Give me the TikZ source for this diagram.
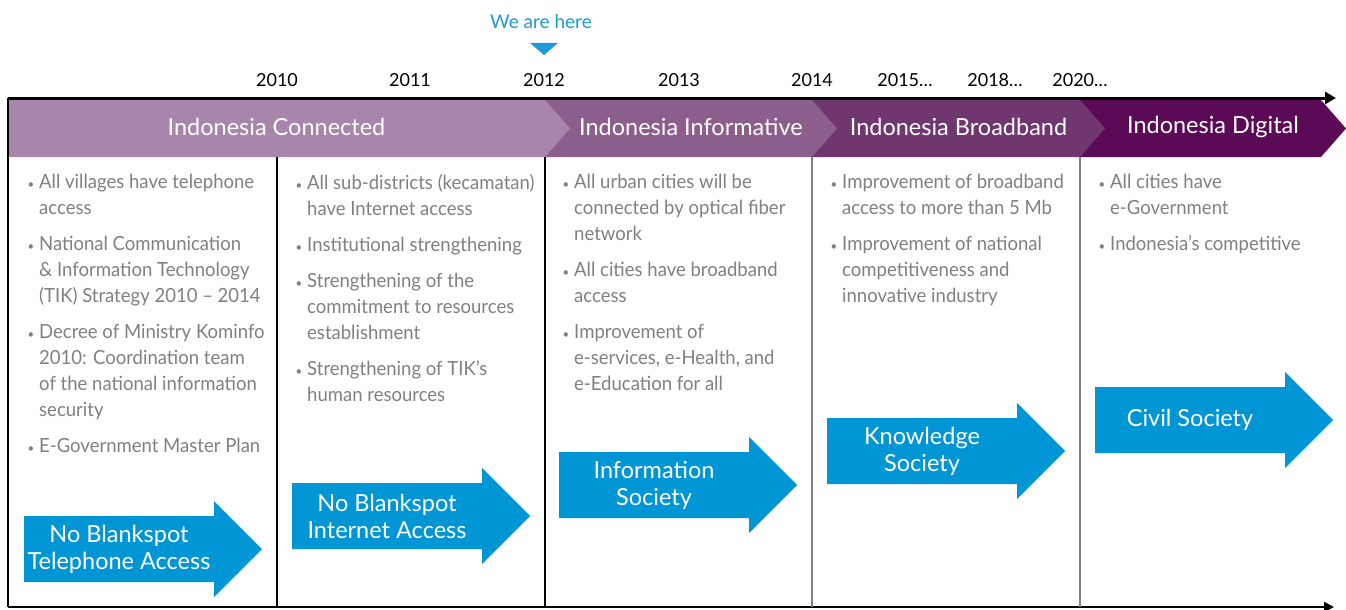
\documentclass[tikz,border=0pt]{standalone}
\usepackage{fontspec}
\setmainfont{Lato}
\newfontfamily\itemfont{Lato}[FakeStretch=0.95]
\usetikzlibrary{arrows.meta,positioning}
\definecolor{connc}{HTML}{A886AB}
\definecolor{informc}{HTML}{8B5E8C}
\definecolor{broadc}{HTML}{6F3670}
\definecolor{digitc}{HTML}{5B0A56}
\definecolor{socblue}{HTML}{0096D6}
\definecolor{herec}{HTML}{1E9AD6}
\definecolor{bultxt}{HTML}{808080}
\newcommand{\bul}{\llap{{\fontsize{12}{12}\selectfont\textbullet}\hspace{5pt}}}

\begin{document}
\begin{tikzpicture}[x=1pt,y=-1pt,
    yeartxt/.style={font=\fontsize{18}{20}\selectfont,text=black,inner sep=0pt},
    bandtxt/.style={font=\fontsize{23.5}{28}\selectfont,text=white,inner sep=0pt},
    itemtxt/.style={font=\itemfont\fontsize{19.5}{26}\selectfont,text=bultxt,align=left,
      anchor=north west,inner sep=0pt},
    soctxt/.style={font=\fontsize{23.5}{27}\selectfont,text=white,align=center,inner sep=0pt},
    divline/.style={line width=1.6pt}]
 \useasboundingbox (0,0) rectangle (1346,610);

 % header band, right to left so each tip lies on the next band
 \foreach \l/\r/\c in {1080/1321/digitc,812/1080/broadc,545/812/informc,8/545/connc}
  {\fill[\c] (\l,100) -- (\r,100) -- (\r+25,128.5) -- (\r,157) -- (\l,157) -- cycle;}
 \node[bandtxt] (IC) at (276.5,126.5) {Indonesia Connected};
 \node[bandtxt] (II) at (691,126.5) {Indonesia Informative};
 \node[bandtxt] (IB) at (958.5,126.5) {Indonesia Broadband};
 \node[bandtxt] (ID) at (1213,126.5) {Indonesia Digital};

 % years
 \foreach \x/\yr [count=\i] in {277/2010,410/2011,544/2012,679/2013,812/2014,
   905/2015…,995/2018…,1080/2020…}
  {\node[yeartxt] (yr\i) at (\x,80) {\yr};}
 \node[font=\fontsize{19}{22}\selectfont,text=herec,inner sep=0pt] (WAH) at (541,22) {We are here};
 \fill[herec] (530,43) -- (558,43) -- (544,55) -- cycle;

 % frame
 \coordinate (TL) at (8,98);
 \coordinate (TR) at (1336,98);
 \coordinate (BL) at (8,607);
 \coordinate (BR) at (1334,607);
 \draw[line width=2.5pt] (TL) -- (BL);
 \draw[line width=3pt,-{Triangle[length=11pt,width=12pt]}] (TL) -- (TR);
 \draw[line width=2pt,-{Triangle[length=10pt,width=10pt]}] (BL) -- (BR);
 \foreach \x/\c in {277/black,545/black,812/bultxt,1080/bultxt}
  {\draw[divline,\c] (\x,157) -- (\x,607);}

 % goals per column
 \node[itemtxt] (C1) at (39,174) {\bul All villages have telephone\\access\\[10pt]
   \bul National Communication\\\& Information Technology\\(TIK) Strategy 2010 – 2014\\[10pt]
   \bul Decree of Ministry Kominfo\\2010: Coordination team\\of the national information\\security\\[10pt]
   \bul E-Government Master Plan};
 \node[itemtxt] (C2) at (307,174) {\bul All sub-districts (kecamatan)\\have Internet access\\[10pt]
   \bul Institutional strengthening\\[10pt]
   \bul Strengthening of the\\commitment to resources\\establishment\\[10pt]
   \bul Strengthening of TIK’s\\human resources};
 \node[itemtxt] (C3) at (574,174) {\bul All urban cities will be\\connected by optical fiber\\network\\[10pt]
   \bul All cities have broadband\\access\\[10pt]
   \bul Improvement of\\e-services, e-Health, and\\e-Education for all};
 \node[itemtxt] (C4) at (842,174) {\bul Improvement of broadband\\access to more than 5 Mb\\[10pt]
   \bul Improvement of national\\competitiveness and\\innovative industry};
 \node[itemtxt] (C5) at (1110,174) {\bul All cities have\\e-Government\\[10pt]
   \bul Indonesia’s competitive};

 % society arrows
 \foreach \x/\y/\t [count=\i] in {24/549/{No Blankspot\\Telephone Access},
   292/516/{No Blankspot\\Internet Access},559/485/{Information\\Society},
   827/451/{Knowledge\\Society},1095/420/{Civil Society}}
  {\fill[socblue] (\x,\y-33) -- (\x+190,\y-33) -- (\x+190,\y-48) -- (\x+238,\y)
     -- (\x+190,\y+48) -- (\x+190,\y+33) -- (\x,\y+33) -- cycle;
   \node[soctxt] (soc\i) at (\x+95,\y) {\t};}

\end{tikzpicture}
\end{document}
